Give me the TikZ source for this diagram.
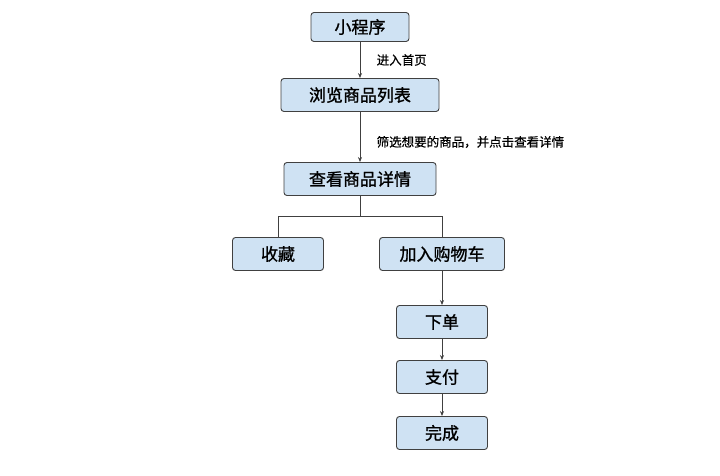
\documentclass[tikz,border=0pt]{standalone}
\usepackage{fontspec}
\setmainfont{Noto Sans CJK SC}
\newfontfamily\boxfont{Noto Sans CJK SC}[FakeBold=1.2]
\newfontfamily\lblfont{Noto Sans CJK SC}[FakeBold=0.6]
\usetikzlibrary{arrows.meta}
\definecolor{boxblue}{HTML}{CFE2F3}
\definecolor{boxline}{HTML}{404040}

\begin{document}
\begin{tikzpicture}[x=1pt,y=-1pt,
    box/.style={draw=boxline,fill=boxblue,rounded corners=3pt,line width=0.9pt,
      minimum height=33pt,inner sep=0pt,font=\boxfont\fontsize{17}{20}\selectfont},
    lbl/.style={anchor=west,font=\lblfont\fontsize{12.5}{14}\selectfont},
    arr/.style={-{Stealth[length=5pt,width=4pt]},line width=0.7pt,draw=boxline},
    link/.style={line width=0.7pt,draw=boxline}]
    \useasboundingbox (0,0) rectangle (720,476);
    % main path
    \node[box,minimum width=98pt,minimum height=29pt] (app) at (360,27) {小程序};
    \node[box,minimum width=158pt] (list) at (360,95) {浏览商品列表};
    \node[box,minimum width=152pt] (detail) at (360,179) {查看商品详情};
    % branches
    \node[box,minimum width=91pt] (fav) at (278,254) {收藏};
    \node[box,minimum width=125pt] (cart) at (442,254) {加入购物车};
    \node[box,minimum width=91pt] (order) at (442,322) {下单};
    \node[box,minimum width=91pt] (pay) at (442,377) {支付};
    \node[box,minimum width=91pt] (done) at (442,433) {完成};

    \draw[arr] (app) -- node[lbl,xshift=13pt] {进入首页} (list);
    \draw[arr] (list) -- node[lbl,pos=0.6,xshift=13pt] {筛选想要的商品，并点击查看详情} (detail);
    \draw[link] (detail.south) -- ++(0,20) coordinate (split);
    \draw[link] (split) -| (fav.north);
    \draw[link] (split) -| (cart.north);
    \draw[arr] (cart) -- (order);
    \draw[arr] (order) -- (pay);
    \draw[arr] (pay) -- (done);
\end{tikzpicture}
\end{document}
